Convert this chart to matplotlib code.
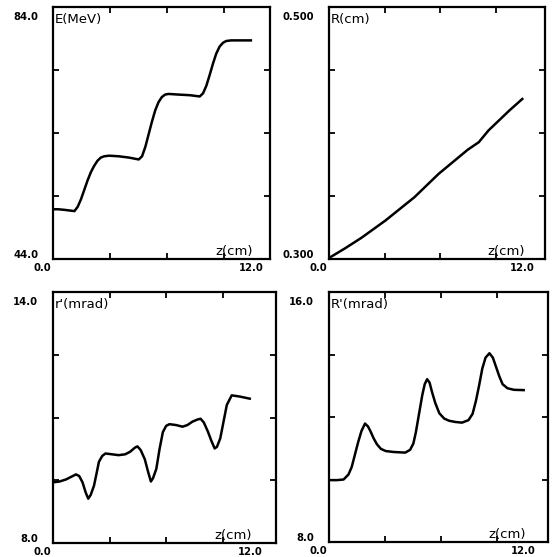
import matplotlib
matplotlib.use("Agg")
import matplotlib.pyplot as plt

W, H = 553, 557

# Energy E(MeV) along z
z_E = [0.0, 0.3, 0.7, 1.0, 1.3, 1.5, 1.7, 1.9, 2.1, 2.3, 2.5, 2.7, 2.9, 3.1, 3.4,
       4.0, 4.6, 5.2, 5.4, 5.6, 5.8, 6.0, 6.2, 6.4, 6.6, 6.8, 7.0, 7.6, 8.3, 8.9,
       9.1, 9.3, 9.5, 9.7, 9.9, 10.1, 10.3, 10.5, 10.8, 11.4, 12.0]
E = [51.9, 51.9, 51.8, 51.7, 51.6, 52.3, 53.5, 55.0, 56.5, 57.8, 58.8, 59.6, 60.1, 60.3, 60.4,
     60.3, 60.1, 59.8, 60.3, 61.8, 63.8, 65.8, 67.6, 68.9, 69.7, 70.1, 70.2, 70.1, 70.0, 69.8,
     70.3, 71.5, 73.2, 75.0, 76.6, 77.7, 78.3, 78.6, 78.7, 78.7, 78.7]

# Beam radius R(cm)
z_R = [0.0, 1.0, 2.0, 3.5, 5.3, 6.8, 8.6, 9.3, 9.9, 11.2, 12.0]
R = [0.3008, 0.3085, 0.3167, 0.3305, 0.349, 0.3675, 0.3866, 0.3927, 0.402, 0.4179, 0.427]

# Particle slope r'(mrad)
z_rp = [0.0, 0.4, 0.8, 1.1, 1.4, 1.6, 1.8, 2.0, 2.15, 2.3, 2.5, 2.65, 2.8, 3.0, 3.2,
        3.6, 4.0, 4.4, 4.7, 5.0, 5.15, 5.35, 5.6, 5.8, 5.97, 6.1, 6.3, 6.5, 6.7, 6.9,
        7.1, 7.5, 7.9, 8.2, 8.5, 8.8, 9.0, 9.2, 9.45, 9.65, 9.86, 10.0, 10.2, 10.4,
        10.6, 10.9, 11.4, 12.0]
rp = [9.45, 9.47, 9.52, 9.58, 9.64, 9.6, 9.45, 9.2, 9.06, 9.15, 9.37, 9.65, 9.94, 10.08, 10.14,
      10.12, 10.1, 10.12, 10.18, 10.28, 10.31, 10.22, 10.0, 9.7, 9.47, 9.55, 9.77, 10.25, 10.65, 10.8,
      10.84, 10.82, 10.78, 10.82, 10.9, 10.95, 10.97, 10.88, 10.66, 10.45, 10.26, 10.3, 10.5, 10.9,
      11.3, 11.53, 11.5, 11.45]

# Envelope slope R'(mrad)
z_Rp = [0.0, 0.5, 0.9, 1.2, 1.4, 1.6, 1.8, 2.0, 2.22, 2.4, 2.55, 2.75, 2.95, 3.2, 3.5,
        4.0, 4.7, 5.0, 5.2, 5.35, 5.55, 5.75, 5.9, 6.05, 6.2, 6.35, 6.55, 6.8, 7.1, 7.4,
        7.8, 8.2, 8.6, 8.85, 9.05, 9.25, 9.45, 9.65, 9.89, 10.1, 10.3, 10.5, 10.7, 11.0,
        11.4, 12.0]
Rp = [9.98, 9.98, 10.0, 10.16, 10.4, 10.8, 11.2, 11.55, 11.79, 11.7, 11.55, 11.32, 11.13, 10.98, 10.91,
      10.88, 10.86, 10.95, 11.15, 11.5, 12.1, 12.7, 13.05, 13.21, 13.1, 12.8, 12.45, 12.12, 11.95, 11.88,
      11.84, 11.82, 11.9, 12.1, 12.5, 13.0, 13.55, 13.9, 14.04, 13.9, 13.6, 13.3, 13.05, 12.92,
      12.87, 12.86]

panels = [
    # (box in pixels: left, right, top, bottom), z, y, ylim, labels, xmax
    ((53, 270, 7, 259), z_E, E, (44.0, 84.0), ("84.0", "44.0"), "E(MeV)", 13.16),
    ((329, 545, 7, 259), z_R, R, (0.3, 0.5), ("0.500", "0.300"), "R(cm)", 13.41),
    ((53, 276, 292, 543), z_rp, rp, (8.0, 14.0), ("14.0", "8.0"), "r'(mrad)", 13.6),
    ((329, 548, 292, 542), z_Rp, Rp, (8.0, 16.0), ("16.0", "8.0"), "R'(mrad)", 13.5),
]

fig = plt.figure(figsize=(W / 100, H / 100), dpi=100)

for (l, r, t, b), zs, ys, ylim, ylabs, name, xmax in panels:
    ax = fig.add_axes([l / W, 1 - b / H, (r - l) / W, (b - t) / H])
    ax.plot(zs, ys, color="black", lw=1.8)
    ax.set_xlim(0, xmax)
    ax.set_ylim(*ylim)
    y0, y1 = ylim
    ax.set_xticks([3.45, 6.9, 10.35])
    ax.set_yticks([y0 + (y1 - y0) * f for f in (0.25, 0.5, 0.75)])
    ax.tick_params(direction="in", length=4, width=1.3, top=True, right=True,
                   labelbottom=False, labelleft=False)
    for s in ax.spines.values():
        s.set_linewidth(1.6)

    tick_font = dict(fontsize=7.2, fontweight="bold", textcoords="offset pixels")
    ax.annotate(ylabs[0], xy=(0, 1), xycoords="axes fraction", xytext=(-15, -10),
                ha="right", va="center", **tick_font)
    ax.annotate(ylabs[1], xy=(0, 0), xycoords="axes fraction", xytext=(-15, 4),
                ha="right", va="center", **tick_font)
    ax.annotate("0.0", xy=(0, 0), xycoords="axes fraction", xytext=(-11, -9),
                ha="center", va="center", **tick_font)
    ax.annotate("12.0", xy=(12, 0), xycoords=("data", "axes fraction"), xytext=(0, -9),
                ha="center", va="center", **tick_font)

    ax.annotate(name, xy=(0, 1), xycoords="axes fraction", xytext=(2, -6),
                textcoords="offset pixels", ha="left", va="top", fontsize=9.5)
    ax.annotate("z(cm)", xy=(12.15, 0), xycoords=("data", "axes fraction"), xytext=(0, 1),
                textcoords="offset pixels", ha="right", va="bottom", fontsize=9.5)

fig.savefig("out.png", dpi=100)
